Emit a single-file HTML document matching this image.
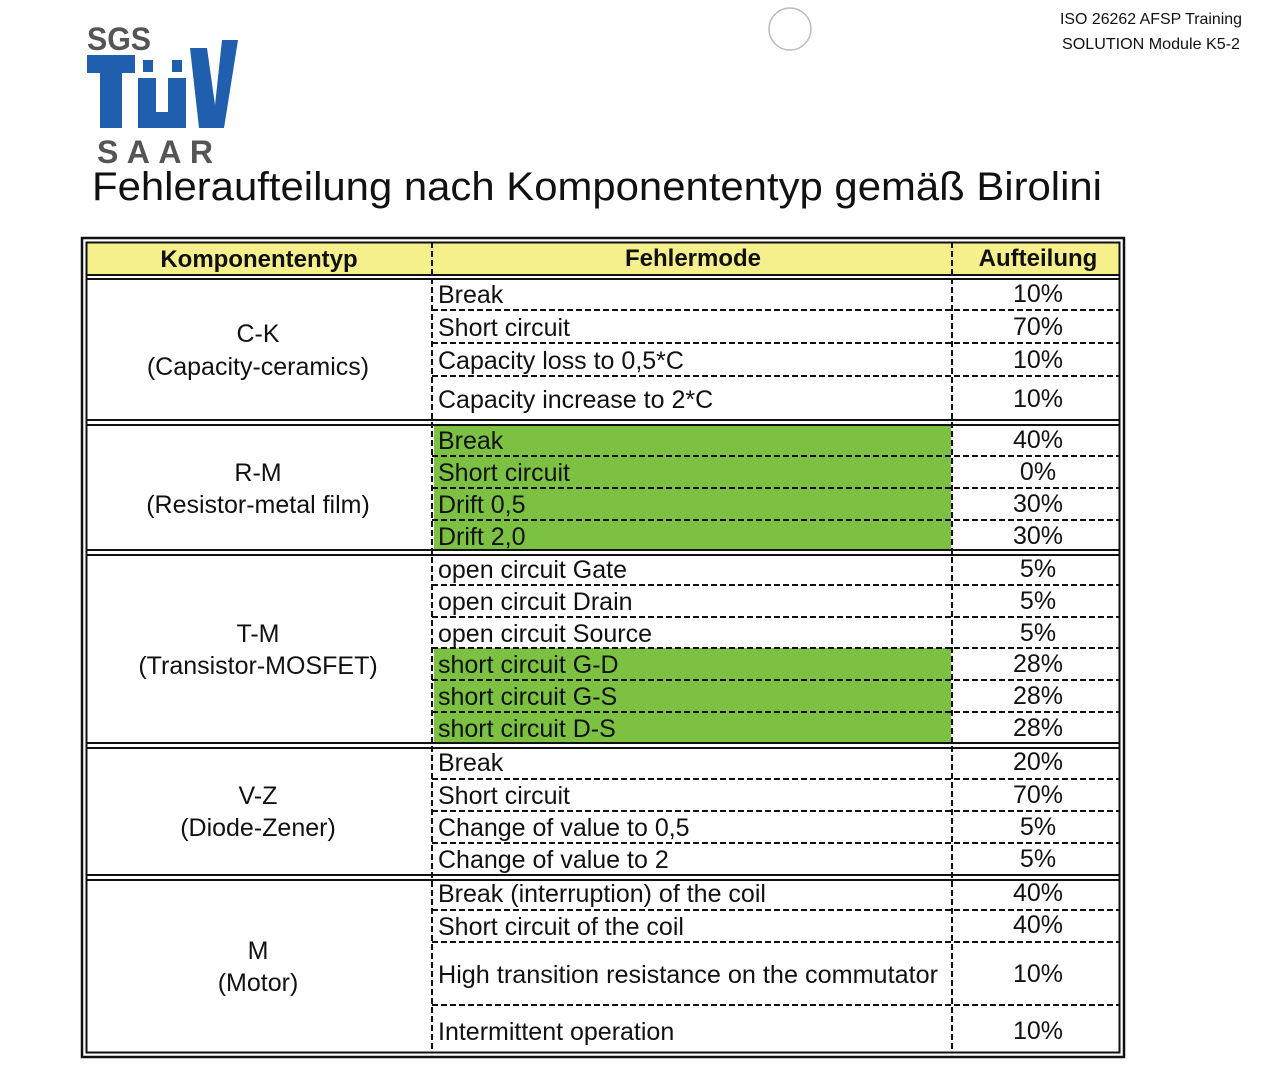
<!DOCTYPE html>
<html><head><meta charset="utf-8"><style>
html,body{margin:0;padding:0;background:#fff;width:1286px;height:1065px;overflow:hidden}
svg{display:block}
text{font-family:"Liberation Sans",sans-serif;fill:#111}
</style></head><body>
<svg width="1286" height="1065" viewBox="0 0 1286 1065" xmlns="http://www.w3.org/2000/svg">
<!-- logo -->
<text x="87" y="50" font-size="32" font-weight="bold" style="fill:#555" textLength="64" lengthAdjust="spacingAndGlyphs">SGS</text>
<g fill="#1f5fae">
<rect x="87" y="55" width="48" height="18"/>
<rect x="100" y="55" width="22" height="73"/>
<rect x="138" y="78" width="18" height="50"/>
<rect x="168" y="78" width="18" height="50"/>
<rect x="138" y="112" width="48" height="16"/>
<rect x="143" y="60" width="10" height="12"/>
<rect x="172" y="60" width="10" height="12"/>
<polygon points="190,48 207,48 215,105 222,40 238,40 224,128 199,128"/>
</g>
<text x="97" y="163" font-size="32" font-weight="bold" style="fill:#555" textLength="116" lengthAdjust="spacing">SAAR</text>
<circle cx="790" cy="29" r="21" fill="none" stroke="#bbb" stroke-width="1.5"/>
<text x="1060" y="24" font-size="16" textLength="182" lengthAdjust="spacingAndGlyphs">ISO 26262 AFSP Training</text>
<text x="1062" y="49" font-size="16" textLength="178" lengthAdjust="spacingAndGlyphs">SOLUTION Module K5-2</text>
<text x="92" y="200" font-size="40" textLength="1010" lengthAdjust="spacingAndGlyphs">Fehleraufteilung nach Komponententyp gemäß Birolini</text>

<rect x="86" y="242" width="1034" height="33" fill="#f5f08c"/>
<g fill="#7cc142">
<rect x="434" y="425" width="517" height="125"/>
<rect x="434" y="648" width="517" height="95"/>
</g>
<rect x="82" y="238" width="1042" height="819" fill="none" stroke="#111" stroke-width="2.5"/>
<rect x="86.5" y="242.5" width="1033" height="810" fill="none" stroke="#111" stroke-width="2"/>
<g stroke="#111" stroke-width="2">
<line x1="86" y1="275" x2="1120" y2="275"/><line x1="86" y1="279" x2="1120" y2="279"/>
<line x1="86" y1="420" x2="1120" y2="420"/><line x1="86" y1="425" x2="1120" y2="425"/>
<line x1="86" y1="550" x2="1120" y2="550"/><line x1="86" y1="555" x2="1120" y2="555"/>
<line x1="86" y1="743" x2="1120" y2="743"/><line x1="86" y1="748" x2="1120" y2="748"/>
<line x1="86" y1="875" x2="1120" y2="875"/><line x1="86" y1="880" x2="1120" y2="880"/>
</g>
<g stroke="#111" stroke-width="2" stroke-dasharray="6,3">
<line x1="432" y1="242" x2="432" y2="1052"/>
<line x1="952" y1="242" x2="952" y2="1052"/>
<line x1="432" y1="310" x2="1120" y2="310"/><line x1="432" y1="343" x2="1120" y2="343"/><line x1="432" y1="376" x2="1120" y2="376"/>
<line x1="432" y1="456" x2="1120" y2="456"/><line x1="432" y1="488" x2="1120" y2="488"/><line x1="432" y1="520" x2="1120" y2="520"/>
<line x1="432" y1="585" x2="1120" y2="585"/><line x1="432" y1="617" x2="1120" y2="617"/><line x1="432" y1="648" x2="1120" y2="648"/><line x1="432" y1="680" x2="1120" y2="680"/><line x1="432" y1="712" x2="1120" y2="712"/>
<line x1="432" y1="779" x2="1120" y2="779"/><line x1="432" y1="811" x2="1120" y2="811"/><line x1="432" y1="843" x2="1120" y2="843"/>
<line x1="432" y1="910" x2="1120" y2="910"/><line x1="432" y1="942" x2="1120" y2="942"/><line x1="432" y1="1005" x2="1120" y2="1005"/>
</g>
<g font-size="24" font-weight="bold" text-anchor="middle">
<text x="259" y="267">Komponententyp</text>
<text x="693" y="266">Fehlermode</text>
<text x="1038" y="266">Aufteilung</text>
</g>
<g font-size="25" text-anchor="middle">
<text x="258" y="342">C-K</text><text x="258" y="375">(Capacity-ceramics)</text>
<text x="258" y="481">R-M</text><text x="258" y="513">(Resistor-metal film)</text>
<text x="258" y="642">T-M</text><text x="258" y="674">(Transistor-MOSFET)</text>
<text x="258" y="804">V-Z</text><text x="258" y="836">(Diode-Zener)</text>
<text x="258" y="959">M</text><text x="258" y="991">(Motor)</text>
</g>
<g font-size="25">
<text x="438" y="303">Break</text>
<text x="438" y="336">Short circuit</text>
<text x="438" y="369">Capacity loss to 0,5*C</text>
<text x="438" y="408">Capacity increase to 2*C</text>
<text x="438" y="449">Break</text>
<text x="438" y="481">Short circuit</text>
<text x="438" y="513">Drift 0,5</text>
<text x="438" y="545">Drift 2,0</text>
<text x="438" y="578">open circuit Gate</text>
<text x="438" y="610">open circuit Drain</text>
<text x="438" y="642">open circuit Source</text>
<text x="438" y="673">short circuit G-D</text>
<text x="438" y="705">short circuit G-S</text>
<text x="438" y="737">short circuit D-S</text>
<text x="438" y="771">Break</text>
<text x="438" y="804">Short circuit</text>
<text x="438" y="836">Change of value to 0,5</text>
<text x="438" y="868">Change of value to 2</text>
<text x="438" y="902">Break (interruption) of the coil</text>
<text x="438" y="935">Short circuit of the coil</text>
<text x="438" y="983" textLength="500" lengthAdjust="spacingAndGlyphs">High transition resistance on the commutator</text>
<text x="438" y="1040">Intermittent operation</text>
</g>
<g font-size="25" text-anchor="middle">
<text x="1038" y="302">10%</text><text x="1038" y="335">70%</text><text x="1038" y="368">10%</text><text x="1038" y="407">10%</text>
<text x="1038" y="448">40%</text><text x="1038" y="480">0%</text><text x="1038" y="512">30%</text><text x="1038" y="544">30%</text>
<text x="1038" y="577">5%</text><text x="1038" y="609">5%</text><text x="1038" y="641">5%</text><text x="1038" y="672">28%</text><text x="1038" y="704">28%</text><text x="1038" y="736">28%</text>
<text x="1038" y="770">20%</text><text x="1038" y="803">70%</text><text x="1038" y="835">5%</text><text x="1038" y="867">5%</text>
<text x="1038" y="901">40%</text><text x="1038" y="933">40%</text><text x="1038" y="982">10%</text><text x="1038" y="1039">10%</text>
</g>
</svg>
</body></html>
